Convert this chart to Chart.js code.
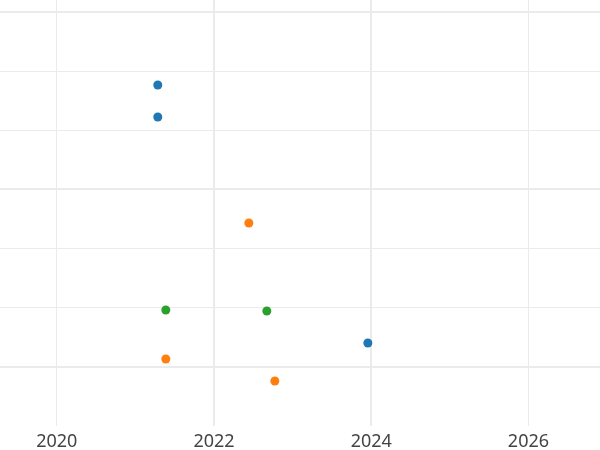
<!DOCTYPE html>
<html>
<head>
<meta charset="utf-8">
<script src="https://cdn.jsdelivr.net/npm/chart.js@4/dist/chart.umd.min.js"></script>
<style>
  html, body { margin: 0; padding: 0; background: #fff; }
  #wrap { width: 600px; height: 450px; }
</style>
</head>
<body>
<div id="wrap"><canvas id="chart"></canvas></div>
<script>
// years on x, unitless values on y (no y labels in the original)
var xTicks = [2020, 2022, 2024, 2026];
var yGrid = [0, 1, 2, 3, 4, 5, 6];

var blueX = [2021.285, 2021.285, 2023.957];
var blueY = [4.766, 4.225, 0.406];

var orangeX = [2022.443, 2021.387, 2022.774];
var orangeY = [2.434, 0.135, -0.237];

var greenX = [2021.387, 2022.672];
var greenY = [0.963, 0.946];

function pts(xs, ys) {
    var out = [];
    for (var i = 0; i < xs.length; i++) out.push({x: xs[i], y: ys[i]});
    return out;
}

var gridColor = '#ebebeb';

var ctx = document.getElementById('chart').getContext('2d');
var chart = new Chart(ctx, {
    type: 'scatter',
    data: {
        datasets: [
            {label: 'a', data: pts(blueX, blueY), backgroundColor: '#1f77b4', borderWidth: 0, pointRadius: 4.5},
            {label: 'b', data: pts(orangeX, orangeY), backgroundColor: '#ff7f0e', borderWidth: 0, pointRadius: 4.5},
            {label: 'c', data: pts(greenX, greenY), backgroundColor: '#2ca02c', borderWidth: 0, pointRadius: 4.5}
        ]
    },
    options: {
        responsive: true,
        maintainAspectRatio: false,
        animation: false,
        layout: {padding: 0, autoPadding: false},
        plugins: {legend: {display: false}, tooltip: {enabled: false}},
        scales: {
            x: {
                type: 'linear',
                min: 2019.278,
                max: 2026.91,
                afterBuildTicks: function(axis) {
                    axis.ticks = xTicks.map(function(v) { return {value: v}; });
                },
                afterFit: function(axis) { axis.height = 28; },
                ticks: {
                    callback: function(v) { return String(v); },
                    color: '#444',
                    font: {family: 'Noto Sans', size: 18},
                    padding: 5
                },
                grid: {
                    color: gridColor,
                    lineWidth: function(c) {
                        var v = c.tick ? c.tick.value : 0;
                        return (v === 2022 || v === 2024) ? 2 : 1;
                    },
                    tickLength: 4
                },
                border: {display: false}
            },
            y: {
                type: 'linear',
                min: -0.93,
                max: 6.203,
                afterBuildTicks: function(axis) {
                    axis.ticks = yGrid.map(function(v) { return {value: v}; });
                },
                ticks: {display: false},
                grid: {
                    color: gridColor,
                    lineWidth: function(c) {
                        var v = c.tick ? c.tick.value : 1;
                        return (v % 3 === 0) ? 2 : 1;
                    },
                    drawTicks: false
                },
                border: {display: false}
            }
        }
    }
});
</script>
</body>
</html>
